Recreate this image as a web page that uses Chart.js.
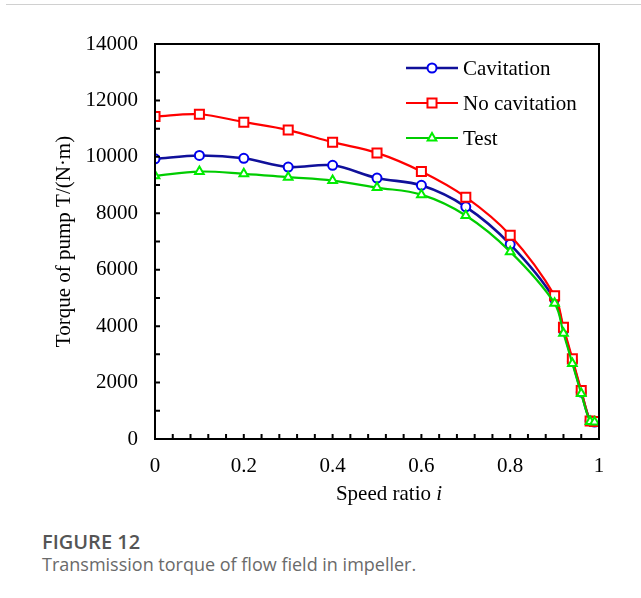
<!DOCTYPE html>
<html>
<head>
<meta charset="utf-8">
<script src="https://cdn.jsdelivr.net/npm/chart.js@4.4.1/dist/chart.umd.min.js"></script>
<style>
  body { margin: 0; background: #fff; width: 641px; height: 598px; position: relative; overflow: hidden; }
  #topline { position: absolute; left: 6px; right: 0; top: 4px; height: 1px; background: #d0d0d0; }
  #chart { position: absolute; left: 0; top: 0; }
  .cap1 { position: absolute; left: 42px; top: 528px; font: 600 20px "Open Sans", sans-serif; color: #555; }
  .cap2 { position: absolute; left: 42px; top: 552px; font: 18px "Open Sans", sans-serif; color: #6a6a6a; }
</style>
</head>
<body>
<div id="topline"></div>
<canvas id="chart" width="641" height="520"></canvas>
<div class="cap1">FIGURE 12</div>
<div class="cap2">Transmission torque of flow field in impeller.</div>
<script>
// values
var speedRatio   = [0, 0.1, 0.2, 0.3, 0.4, 0.5, 0.6, 0.7, 0.8, 0.9, 0.92, 0.94, 0.96, 0.98, 0.99];
var cavitation   = [9930, 10050, 9950, 9640, 9700, 9250, 8990, 8230, 6900, 4950, 3850, 2760, 1660, 640, 600];
var noCavitation = [11430, 11510, 11230, 10950, 10520, 10140, 9480, 8570, 7220, 5080, 3960, 2840, 1720, 640, 620];
var test         = [9330, 9480, 9400, 9280, 9160, 8910, 8660, 7920, 6640, 4810, 3750, 2680, 1610, 620, 600];
var xTicks = [0, 0.2, 0.4, 0.6, 0.8, 1];
var yTicks = [0, 2000, 4000, 6000, 8000, 10000, 12000, 14000];

var serif = '"Liberation Serif", "Times New Roman", serif';

function points(ys) {
    return speedRatio.map(function (x, i) { return { x: x, y: ys[i] }; });
}

var series = [
    { label: 'Cavitation', data: points(cavitation), borderColor: '#10109a', pointBorderColor: '#0000ee',
      pointStyle: 'circle', pointRadius: 4.5, borderWidth: 2.6, order: 2 },
    { label: 'No cavitation', data: points(noCavitation), borderColor: '#ff0000', pointBorderColor: '#ff0000',
      pointStyle: 'rect', pointRadius: 6.4, borderWidth: 2.2, order: 1 },
    { label: 'Test', data: points(test), borderColor: '#00cc00', pointBorderColor: '#00ee00',
      pointStyle: 'triangle', pointRadius: 5, borderWidth: 2.2, order: 0 }
];
series.forEach(function (s) {
    s.pointBackgroundColor = '#fff';
    s.pointBorderWidth = 2;
    s.tension = 0.35;
    s.fill = false;
});

// frame, inside ticks, legend and axis titles
var decor = {
    id: 'decor',
    afterDraw: function (chart) {
        var ctx = chart.ctx, a = chart.chartArea;
        var xs = chart.scales.x, ys = chart.scales.y;
        ctx.save();
        ctx.strokeStyle = '#000';
        ctx.lineWidth = 2;
        ctx.strokeRect(a.left, a.top, a.right - a.left, a.bottom - a.top);
        ctx.beginPath();
        for (var i = 1; i < 25; i++) {
            var px = xs.getPixelForValue(i * 0.04);
            ctx.moveTo(px, a.bottom); ctx.lineTo(px, a.bottom - 5);
        }
        for (var v = 1000; v < 14000; v += 1000) {
            var py = ys.getPixelForValue(v);
            ctx.moveTo(a.left, py); ctx.lineTo(a.left + 5, py);
        }
        ctx.stroke();

        // legend
        var lx = 406, ly = 68;
        series.forEach(function (s, k) {
            var y = ly + k * 35;
            ctx.strokeStyle = s.borderColor;
            ctx.lineWidth = s.borderWidth;
            ctx.beginPath(); ctx.moveTo(lx, y); ctx.lineTo(lx + 52, y); ctx.stroke();
            ctx.lineWidth = 2;
            ctx.strokeStyle = s.pointBorderColor;
            ctx.fillStyle = '#fff';
            Chart.helpers.drawPoint(ctx, { pointStyle: s.pointStyle, radius: s.pointRadius, borderWidth: 2 }, lx + 26, y);
            ctx.fillStyle = '#000';
            ctx.font = '21px ' + serif;
            ctx.textAlign = 'left';
            ctx.textBaseline = 'middle';
            ctx.fillText(s.label, lx + 57, y + 1);
        });

        // x title with italic i
        ctx.fillStyle = '#000';
        ctx.textBaseline = 'middle';
        var t1 = 'Speed ratio ';
        ctx.font = 'italic 21px ' + serif;
        var w2 = ctx.measureText('i').width;
        ctx.font = '21px ' + serif;
        var w1 = ctx.measureText(t1).width;
        var cx = 389, sx = cx - (w1 + w2) / 2;
        ctx.textAlign = 'left';
        ctx.fillText(t1, sx, 494);
        ctx.font = 'italic 21px ' + serif;
        ctx.fillText('i', sx + w1, 494);

        // y title
        ctx.translate(64, (a.top + a.bottom) / 2);
        ctx.rotate(-Math.PI / 2);
        ctx.font = '21px ' + serif;
        ctx.textAlign = 'center';
        ctx.fillText('Torque of pump T/(N\u00b7m)', 0, 0);
        ctx.restore();
    }
};

new Chart(document.getElementById('chart').getContext('2d'), {
    type: 'line',
    data: { datasets: series },
    options: {
        responsive: false,
        animation: false,
        devicePixelRatio: 1,
        layout: { padding: { left: 0, top: 44, right: 42, bottom: 0 } },
        plugins: { legend: { display: false }, tooltip: { enabled: false } },
        scales: {
            x: {
                type: 'linear', min: 0, max: 1,
                grid: { display: false, drawTicks: false },
                border: { display: false },
                afterFit: function (s) { s.height = 81; },
                afterBuildTicks: function (s) { s.ticks = xTicks.map(function (v) { return { value: v }; }); },
                ticks: { padding: 15, color: '#000', font: { family: serif, size: 21 },
                         maxRotation: 0, callback: function (v) { return String(v); } }
            },
            y: {
                min: 0, max: 14000,
                grid: { display: false, drawTicks: false },
                border: { display: false },
                afterFit: function (s) { s.width = 155; },
                afterBuildTicks: function (s) { s.ticks = yTicks.map(function (v) { return { value: v }; }); },
                ticks: { padding: 17, color: '#000', font: { family: serif, size: 21 },
                         callback: function (v) { return String(v); } }
            }
        }
    },
    plugins: [decor]
});
</script>
</body>
</html>
